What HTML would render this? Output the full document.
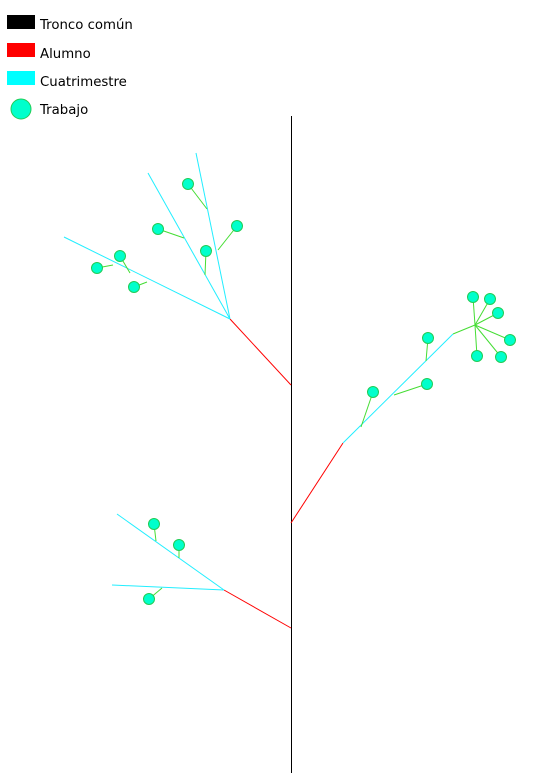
<!DOCTYPE html>
<html><head><meta charset="utf-8"><style>
body{margin:0;background:#fff;width:554px;height:775px;overflow:hidden}
text{font-family:"DejaVu Sans","Liberation Sans",sans-serif;font-size:13.3px;fill:#000}
</style></head><body>
<svg id="chart" width="554" height="775" xmlns="http://www.w3.org/2000/svg">
<g>
<rect x="7" y="15" width="28" height="14" fill="#000"/>
<text x="40" y="29">Tronco común</text>
<rect x="7" y="43" width="28" height="14" fill="#f00"/>
<text x="40" y="58">Alumno</text>
<rect x="7" y="71" width="28" height="14" fill="#0ff"/>
<text x="40" y="86">Cuatrimestre</text>
<circle cx="21" cy="109" r="10" fill="#00ffcc" stroke="#22cc55" stroke-width="1"/>
<text x="40" y="114">Trabajo</text>
</g>
<line x1="291.5" y1="116" x2="291.5" y2="773" stroke="#000" stroke-width="1"/>
<g id="marks"></g>
</svg>
<script>
const alumnos=[[291,385,230,319],[291,523,343,443],[291,628,224,590]];
const cuatris=[[230,319,64,237],[230,319,148,173],[230,319,196,153],[343,443,453,334],[224,590,117,514],[224,590,112,585]];
const greens=[[453,334,475,325]];
const trabajos=[[207,209,188,184],[184,238,158,229],[205,275,206,251],[218,250,237,226],[130,273,120,256],[113,265,97,268],[147,282,134,287],
[475,325,473,297],[475,325,490,299],[475,325,498,313],[475,325,510,340],[475,325,501,357],[475,325,477,356],
[361,427,373,392],[394,395,427,384],[426,361,428,338],
[156,541,154,524],[179,558,179,545],[162,588,149,599]];
const g=document.getElementById('marks');const NS='http://www.w3.org/2000/svg';
function ln(a,c,n){const l=document.createElementNS(NS,'line');l.setAttribute('x1',a[0]);l.setAttribute('y1',a[1]);l.setAttribute('x2',a[2]);l.setAttribute('y2',a[3]);l.setAttribute('stroke',c);l.setAttribute('stroke-width',1);


g.appendChild(l);}
alumnos.forEach(a=>ln(a,'#f00','alumno-branch'));
cuatris.forEach(a=>ln(a,'#22eeff','cuatrimestre-branch'));
greens.forEach(a=>ln(a,'#44dd33','trabajo-stem'));
trabajos.forEach(a=>ln(a,'#44dd33','trabajo-stem'));
trabajos.forEach(a=>{const c=document.createElementNS(NS,'circle');c.setAttribute('cx',a[2]);c.setAttribute('cy',a[3]);c.setAttribute('r',5.5);c.setAttribute('fill','#00ffcc');c.setAttribute('stroke','#22cc55');


g.appendChild(c);});
</script>
</body></html>
